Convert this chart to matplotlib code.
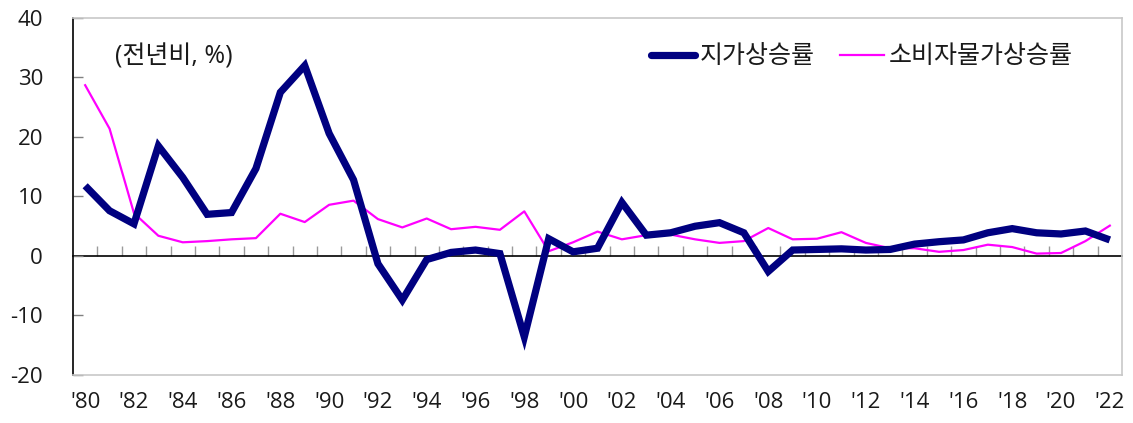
import matplotlib
matplotlib.use("Agg")
import matplotlib.pyplot as plt
from matplotlib.lines import Line2D

plt.rcParams['font.family'] = ['Open Sans', 'Noto Sans CJK KR', 'DejaVu Sans']

years = list(range(1980, 2023))
tick_labels = ["'%02d" % (y % 100) for y in years[::2]]

land_price = [11.8, 7.6, 5.4, 18.5, 13.2, 7.0, 7.3, 14.7, 27.5, 32.0,
              20.6, 12.8, -1.3, -7.4, -0.6, 0.6, 1.0, 0.4, -13.6, 2.9,
              0.7, 1.3, 9.0, 3.5, 3.9, 5.0, 5.6, 3.9, -2.6, 1.0,
              1.1, 1.2, 1.0, 1.1, 2.0, 2.4, 2.7, 3.9, 4.6, 3.9,
              3.7, 4.2, 2.7]

cpi = [28.7, 21.4, 7.2, 3.4, 2.3, 2.5, 2.8, 3.0, 7.1, 5.7,
       8.6, 9.3, 6.2, 4.8, 6.3, 4.5, 4.9, 4.4, 7.5, 0.8,
       2.3, 4.1, 2.8, 3.5, 3.6, 2.8, 2.2, 2.5, 4.7, 2.8,
       2.9, 4.0, 2.2, 1.3, 1.3, 0.7, 1.0, 1.9, 1.5, 0.4,
       0.5, 2.5, 5.1]

y_ticks = [-20, -10, 0, 10, 20, 30, 40]

NAVY = '#000080'
MAGENTA = '#FF00FF'
TEXT = '#1a1a1a'

fig = plt.figure(figsize=(11.33, 4.23), dpi=100)
ax = fig.add_axes([0.0644, 0.1135, 0.9259, 0.844])

x = list(range(len(years)))
ax.plot(x, land_price, color=NAVY, lw=5.2, solid_joinstyle='miter',
        solid_capstyle='butt', zorder=4)
ax.plot(x, cpi, color=MAGENTA, lw=1.6, zorder=3)

ymin, ymax = -20, 40
ax.set_ylim(ymin, ymax)
ax.set_xlim(-0.5, len(years) - 0.5)

ax.set_yticks(y_ticks)
ax.set_yticklabels([str(v) for v in y_ticks])
ax.set_xticks(x[::2])
ax.set_xticklabels(tick_labels)
ax.tick_params(axis='x', length=0, pad=12, labelsize=16, labelcolor=TEXT)
ax.tick_params(axis='y', direction='in', length=7, width=1, color='#808080',
               pad=21.5, labelsize=16, labelcolor=TEXT)

for side in ('top', 'right', 'bottom'):
    ax.spines[side].set_color('#c8c8c8')
    ax.spines[side].set_linewidth(1.2)
ax.spines['left'].set_color('black')
ax.spines['left'].set_linewidth(1.2)

# zero line with category-boundary ticks
zero_axis = ax.secondary_xaxis((0 - ymin) / (ymax - ymin))
zero_axis.spines['bottom'].set_color('black')
zero_axis.spines['bottom'].set_linewidth(1.2)
zero_axis.set_xticks([i + 0.5 for i in x[:-1]])
zero_axis.tick_params(axis='x', direction='in', length=7, width=1,
                      color='#9a9a9a', labelbottom=False)

ax.text(0.04, 0.891, '(전년비, %)', transform=ax.transAxes, fontsize=18,
        va='center', ha='left', color=TEXT)

handles = [Line2D([], [], color=NAVY, lw=5.2, solid_capstyle='round'),
           Line2D([], [], color=MAGENTA, lw=1.6)]
leg = ax.legend(handles, ['지가상승률', '소비자물가상승률'], ncol=2,
                loc='center', bbox_to_anchor=(0.752, 0.891), frameon=False,
                fontsize=18, handlelength=1.75, handletextpad=0.2,
                columnspacing=1.0, borderaxespad=0, borderpad=0)
for t in leg.get_texts():
    t.set_color(TEXT)

fig.savefig('out.png', dpi=100)
